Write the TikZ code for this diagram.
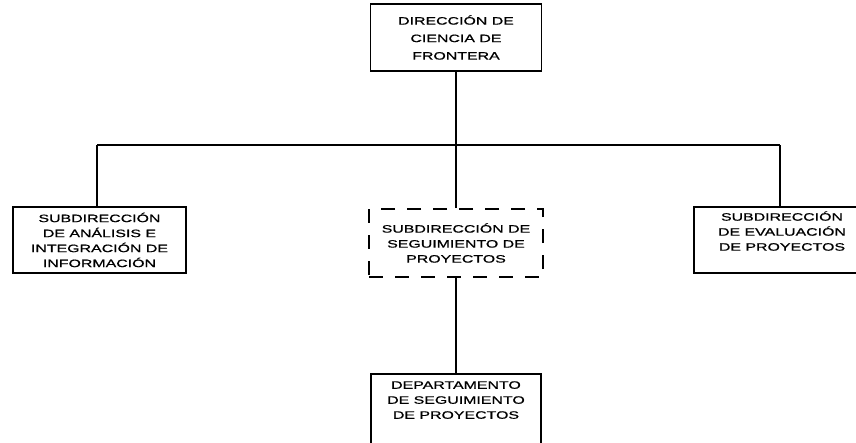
\documentclass[tikz,border=0pt]{standalone}
\usepackage{fontspec}
\newfontfamily\boxfont[FakeStretch=1.48,FakeBold=0.7]{Liberation Sans}
\begin{document}
\begin{tikzpicture}[x=1pt,y=-1pt,
  unit/.style={draw=black, line width=1.8pt, fill=white, inner sep=0pt,
    align=center, font=\boxfont\fontsize{10.75}{15}\selectfont},
  link/.style={draw=black, line width=1.8pt}]
\useasboundingbox (0,0) rectangle (856,442);
\clip (0,0) rectangle (856,442);

% boxes
\node[unit, minimum width=171pt, minimum height=67pt,
  font=\boxfont\fontsize{10.75}{17.5}\selectfont]
  (top) at (456,37.5) {DIRECCIÓN DE\\CIENCIA DE\\FRONTERA};
\node[unit, minimum width=173pt, minimum height=66pt]
  (left) at (99.5,240) {SUBDIRECCIÓN\\DE ANÁLISIS E\\INTEGRACIÓN DE\\INFORMACIÓN};
\node[unit, dash pattern=on 14pt off 12pt, minimum width=174pt, minimum height=68pt]
  (mid) at (456,243) {SUBDIRECCIÓN DE\\SEGUIMIENTO DE\\PROYECTOS};
\node[unit, minimum width=176pt, minimum height=66pt]
  (right) at (782,240) {SUBDIRECCIÓN\\DE EVALUACIÓN\\DE PROYECTOS\\[3pt]};
\node[unit, minimum width=170pt, minimum height=70pt]
  (bottom) at (456,409) {DEPARTAMENTO\\DE SEGUIMIENTO\\DE PROYECTOS\\[3pt]};

% connectors
\coordinate (busL) at (97,145);
\coordinate (busR) at (780,145);
\draw[link] (top.south) -- (top.south |- busL);
\draw[link] (busL) -- (busR);
\draw[link] (busL) -- (busL |- left.north);
\draw[link] (mid.north) -- (mid.north |- busL);
\draw[link] (busR) -- (busR |- right.north);
\draw[link] (mid.south) -- (bottom.north);
\end{tikzpicture}
\end{document}
